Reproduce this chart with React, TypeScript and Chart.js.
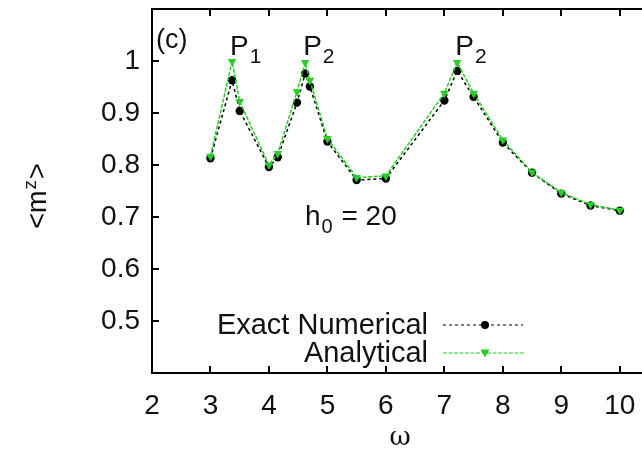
import { useEffect, useRef } from 'react';
import { Chart, registerables } from 'chart.js';

Chart.register(...registerables);

// Driving frequency ω at which <m^z> was evaluated
const omega = [3, 3.37, 3.5, 4, 4.15, 4.48, 4.62, 4.7, 5, 5.5, 6, 7, 7.22, 7.5, 8, 8.5, 9, 9.5, 10];
// Exact numerical <m^z>
const exactNumerical = [0.813, 0.963, 0.904, 0.796, 0.815, 0.92, 0.976, 0.951, 0.845, 0.771, 0.774, 0.924, 0.981, 0.931, 0.843, 0.785, 0.745, 0.722, 0.712];
// Analytical <m^z>
const analytical = [0.817, 0.999, 0.922, 0.8, 0.822, 0.941, 0.997, 0.963, 0.851, 0.776, 0.779, 0.938, 0.997, 0.938, 0.848, 0.786, 0.747, 0.724, 0.713];

const xTicks = [2, 3, 4, 5, 6, 7, 8, 9, 10];
const yTicks = [0.5, 0.6, 0.7, 0.8, 0.9, 1];

const seriesNames = ['Exact Numerical', 'Analytical'];
const peakLabels = [
  { x: 3.37, main: 'P', sub: '1' },
  { x: 4.62, main: 'P', sub: '2' },
  { x: 7.22, main: 'P', sub: '2' },
];

const FONT = '"Liberation Sans", Arial, Helvetica, sans-serif';
const GREEN = 'rgb(40, 205, 40)';
const W = 690;
const H = 458;

function drawDownTriangle(ctx: CanvasRenderingContext2D, x: number, y: number, r: number) {
  ctx.beginPath();
  ctx.moveTo(x - r, y - r * 0.8);
  ctx.lineTo(x + r, y - r * 0.8);
  ctx.lineTo(x, y + r);
  ctx.closePath();
  ctx.fill();
}

const decorations = {
  id: 'decorations',
  afterDraw(chart: Chart) {
    const { ctx, chartArea: a } = chart;
    const xs = chart.scales.x;
    const ys = chart.scales.y;
    ctx.save();

    // frame
    ctx.strokeStyle = '#000';
    ctx.lineWidth = 2;
    ctx.setLineDash([]);
    ctx.strokeRect(a.left, a.top, a.right - a.left, a.bottom - a.top);

    // inward tick marks on all four sides
    const tl = 7;
    ctx.beginPath();
    xTicks.forEach((v) => {
      const px = Math.round(xs.getPixelForValue(v));
      ctx.moveTo(px, a.bottom);
      ctx.lineTo(px, a.bottom - tl);
      ctx.moveTo(px, a.top);
      ctx.lineTo(px, a.top + tl);
    });
    yTicks.forEach((v) => {
      const py = Math.round(ys.getPixelForValue(v));
      ctx.moveTo(a.left, py);
      ctx.lineTo(a.left + tl, py);
      ctx.moveTo(a.right, py);
      ctx.lineTo(a.right - tl, py);
    });
    ctx.stroke();

    ctx.fillStyle = '#111';
    ctx.textBaseline = 'alphabetic';

    // panel tag
    ctx.textAlign = 'left';
    ctx.font = `27px ${FONT}`;
    ctx.fillText('(c)', a.left + 4, 48);

    // peak labels
    peakLabels.forEach((p) => {
      const px = xs.getPixelForValue(p.x) - 2;
      ctx.font = `28px ${FONT}`;
      ctx.fillText(p.main, px, 55);
      const w = ctx.measureText(p.main).width;
      ctx.font = `21px ${FONT}`;
      ctx.fillText(p.sub, px + w + 1, 63);
    });

    // field strength annotation
    ctx.font = `28px ${FONT}`;
    const hx = 305;
    ctx.fillText('h', hx, 225);
    const hw = ctx.measureText('h').width;
    ctx.font = `20px ${FONT}`;
    ctx.fillText('0', hx + hw + 1, 233);
    const zw = ctx.measureText('0').width;
    ctx.font = `28px ${FONT}`;
    ctx.fillText(' = 20', hx + hw + zw + 2, 225);

    // legend
    const legendRight = 428;
    const rows = [325, 353];
    ctx.textAlign = 'right';
    ctx.textBaseline = 'middle';
    ctx.font = `29px ${FONT}`;
    seriesNames.forEach((name, i) => ctx.fillText(name, legendRight, rows[i] + 1));
    ctx.lineWidth = 1.2;
    ctx.strokeStyle = '#000';
    ctx.setLineDash([3, 3]);
    ctx.beginPath();
    ctx.moveTo(443, rows[0]);
    ctx.lineTo(523, rows[0]);
    ctx.stroke();
    ctx.fillStyle = '#000';
    ctx.beginPath();
    ctx.arc(485, rows[0], 4, 0, Math.PI * 2);
    ctx.fill();
    ctx.strokeStyle = GREEN;
    ctx.setLineDash([4, 1.5]);
    ctx.beginPath();
    ctx.moveTo(443, rows[1]);
    ctx.lineTo(525, rows[1]);
    ctx.stroke();
    ctx.fillStyle = GREEN;
    drawDownTriangle(ctx, 485, rows[1], 4.5);

    // axis titles
    ctx.setLineDash([]);
    ctx.fillStyle = '#111';
    ctx.textAlign = 'center';
    ctx.textBaseline = 'alphabetic';
    ctx.font = `26px "DejaVu Serif", "Liberation Serif", serif`;
    ctx.fillText('ω', 400, 445);

    ctx.translate(46, 196);
    ctx.rotate(-Math.PI / 2);
    ctx.textAlign = 'left';
    ctx.font = `27px ${FONT}`;
    const t1 = '<m';
    const t1w = ctx.measureText(t1).width;
    ctx.font = `19px ${FONT}`;
    const t2w = ctx.measureText('z').width;
    ctx.font = `27px ${FONT}`;
    const t3w = ctx.measureText('>').width;
    const total = t1w + t2w + t3w + 2;
    let cx = -total / 2;
    ctx.fillText(t1, cx, 0);
    cx += t1w + 1;
    ctx.font = `19px ${FONT}`;
    ctx.fillText('z', cx, -10);
    cx += t2w + 1;
    ctx.font = `27px ${FONT}`;
    ctx.fillText('>', cx, 0);

    ctx.restore();
  },
};

export default function App() {
  const canvasRef = useRef<HTMLCanvasElement | null>(null);

  useEffect(() => {
    const canvas = canvasRef.current;
    if (!canvas) return;
    const chart = new Chart(canvas, {
      type: 'scatter',
      data: {
        datasets: [
          {
            label: seriesNames[1],
            data: omega.map((x, i) => ({ x, y: analytical[i] })),
            showLine: true,
            borderColor: GREEN,
            backgroundColor: GREEN,
            borderWidth: 1.5,
            borderDash: [4, 1.5],
            pointStyle: 'triangle',
            rotation: 180,
            pointRadius: 5,
            pointBorderWidth: 0,
            order: 0,
          },
          {
            label: seriesNames[0],
            data: omega.map((x, i) => ({ x, y: exactNumerical[i] })),
            showLine: true,
            borderColor: '#000',
            backgroundColor: '#000',
            borderWidth: 1.5,
            borderDash: [3, 3],
            pointStyle: 'circle',
            pointRadius: 4.2,
            pointBorderWidth: 0,
            order: 1,
          },
        ],
      },
      options: {
        responsive: false,
        animation: false,
        devicePixelRatio: 1,
        layout: { padding: { top: 9, right: 41, left: 0, bottom: 0 } },
        plugins: { legend: { display: false }, tooltip: { enabled: false } },
        scales: {
          x: {
            type: 'linear',
            min: 2,
            max: 10.5,
            afterFit: (s: any) => {
              s.height = 85;
              s.paddingLeft = 0;
              s.paddingRight = 0;
            },
            afterBuildTicks: (s: any) => {
              s.ticks = xTicks.map((value) => ({ value }));
            },
            grid: { display: false, drawTicks: false },
            border: { display: false },
            ticks: {
              padding: 16,
              color: '#111',
              font: { family: FONT, size: 28 },
              maxRotation: 0,
              autoSkip: false,
              callback: (v: any) => String(v),
            },
          },
          y: {
            type: 'linear',
            min: 0.4,
            max: 1.1,
            afterFit: (s: any) => {
              s.width = 152;
              s.paddingTop = 0;
              s.paddingBottom = 0;
            },
            afterBuildTicks: (s: any) => {
              s.ticks = yTicks.map((value) => ({ value }));
            },
            grid: { display: false, drawTicks: false },
            border: { display: false },
            ticks: {
              padding: 12,
              color: '#111',
              font: { family: FONT, size: 28 },
              autoSkip: false,
              callback: (v: any) => String(Math.round(Number(v) * 10) / 10),
            },
          },
        },
      },
      plugins: [decorations],
    });
    return () => chart.destroy();
  }, []);

  return (
    <div style={{ position: 'absolute', left: 0, top: 0, width: 642, height: 458, overflow: 'hidden', background: '#fff' }}>
      <canvas ref={canvasRef} width={W} height={H} style={{ display: 'block', width: W, height: H }} />
    </div>
  );
}
